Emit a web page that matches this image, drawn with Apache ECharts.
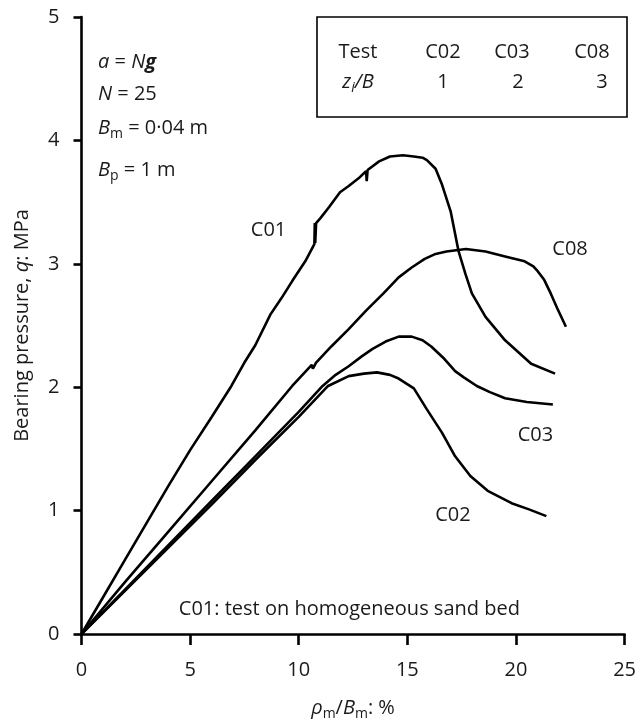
<!DOCTYPE html>
<html><head><meta charset="utf-8">
<script src="https://cdn.jsdelivr.net/npm/echarts@6/dist/echarts.min.js"></script>
<style>html,body{margin:0;padding:0;background:#fff}#c{width:639px;height:726px}</style>
</head><body><div id="c"></div>
<script>
// ---- data ----
const xTicks = [0, 5, 10, 15, 20, 25];
const yTicks = [0, 1, 2, 3, 4, 5];

const c01 = [[0,0],[1,0.3],[2,0.6],[3,0.9],[4,1.2],[5,1.49],[6,1.76],[6.9,2.01],[7.5,2.2],[8.0,2.34],[8.7,2.59],[9.2,2.72],[9.7,2.86],[10.3,3.02],[10.72,3.16],[10.74,3.33],[10.76,3.17],[10.8,3.33],[11.0,3.37],[11.4,3.46],[11.9,3.58],[12.3,3.63],[12.8,3.70],[13.1,3.75],[13.13,3.67],[13.17,3.76],[13.7,3.83],[14.2,3.87],[14.8,3.88],[15.3,3.87],[15.7,3.86],[15.9,3.84],[16.3,3.77],[16.6,3.64],[17.0,3.42],[17.36,3.10],[17.67,2.92],[17.97,2.76],[18.6,2.57],[19.5,2.38],[20.7,2.19],[21.8,2.11]];
const c08 = [[0,0],[2,0.42],[4,0.83],[6,1.24],[8,1.65],[9.7,2.01],[10.6,2.18],[10.65,2.15],[10.8,2.2],[11.5,2.33],[12.3,2.47],[13.1,2.62],[13.9,2.76],[14.6,2.89],[15.2,2.97],[15.8,3.04],[16.3,3.08],[16.8,3.10],[17.7,3.12],[18.6,3.10],[19.5,3.06],[20.4,3.02],[20.8,2.98],[21.0,2.94],[21.3,2.87],[21.6,2.76],[21.9,2.64],[22.3,2.49]];
const c03 = [[0,0],[2,0.36],[4,0.72],[6,1.08],[8,1.44],[10,1.8],[11.1,2.01],[11.7,2.1],[12.3,2.17],[12.9,2.25],[13.4,2.31],[14.0,2.37],[14.6,2.41],[15.2,2.41],[15.7,2.38],[16.1,2.33],[16.7,2.23],[17.2,2.13],[17.6,2.08],[18.2,2.01],[18.8,1.96],[19.5,1.91],[20.5,1.88],[21.7,1.86]];
const c02 = [[0,0],[2,0.35],[4,0.7],[6,1.05],[8,1.41],[10,1.76],[11.35,2.01],[12.3,2.09],[13.0,2.11],[13.6,2.12],[14.2,2.1],[14.6,2.07],[15.3,1.99],[15.9,1.82],[16.6,1.63],[17.2,1.44],[17.9,1.28],[18.7,1.16],[19.8,1.06],[20.6,1.01],[21.4,0.955]];

const curveNames = ['C01', 'C08', 'C03', 'C02'];
const curveLabelX = [8.61, 22.49, 20.9, 17.1];
const curveLabelY = [3.27, 3.12, 1.61, 0.96];

const tableTests = ['C02', 'C03', 'C08'];
const tableZiB = ['1', '2', '3'];

// ---- chart ----
const F = '"Open Sans", "Noto Sans", sans-serif';
const TXT = '#1a1a1a';
const FS = 20;
const rich = {
  n: { fontFamily: F, fontSize: FS, color: TXT, lineHeight: 26 },
  it: { fontFamily: F, fontSize: FS, color: TXT, fontStyle: 'italic', lineHeight: 26 },
  bi: { fontFamily: F, fontSize: FS, color: TXT, fontStyle: 'italic', fontWeight: 'bold', lineHeight: 26 },
  sub: { fontFamily: F, fontSize: 14, color: TXT, lineHeight: 14, verticalAlign: 'bottom' },
  subi: { fontFamily: F, fontSize: 14, color: TXT, lineHeight: 14, verticalAlign: 'bottom', fontStyle: 'italic' }
};

const chart = echarts.init(document.getElementById('c'), null, { renderer: 'canvas' });
const mk = (name, data) => ({
  name, type: 'line', data, showSymbol: false, smooth: false, silent: true,
  lineStyle: { color: '#000', width: 2.6 }, z: 3
});

chart.setOption({
  backgroundColor: '#fff',
  animation: false,
  grid: { left: 81.5, right: 12.3, top: 17, bottom: 86 },
  xAxis: {
    type: 'value', min: xTicks[0], max: xTicks[xTicks.length - 1], interval: xTicks[1] - xTicks[0],
    splitLine: { show: false },
    axisLine: { onZero: false, lineStyle: { color: '#000', width: 2.6 } },
    axisTick: { length: 11, lineStyle: { color: '#000', width: 2.6 } },
    axisLabel: { fontFamily: F, fontSize: FS, color: TXT, margin: 26 },
    name: '{it|ρ}{sub|m}{n|/}{it|B}{sub|m}{n|: %}',
    nameLocation: 'middle', nameGap: 61,
    nameTextStyle: { rich }
  },
  yAxis: {
    type: 'value', min: yTicks[0], max: yTicks[yTicks.length - 1], interval: yTicks[1] - yTicks[0],
    splitLine: { show: false },
    axisLine: { onZero: false, lineStyle: { color: '#000', width: 2.6 } },
    axisTick: { length: 8, lineStyle: { color: '#000', width: 2.6 } },
    axisLabel: { fontFamily: F, fontSize: FS, color: TXT, margin: 22 },
    name: '{n|Bearing pressure, }{it|q}{n|: MPa}',
    nameLocation: 'middle', nameGap: 46, nameRotate: 90,
    nameTextStyle: { rich }
  },
  series: [mk('C01', c01), mk('C08', c08), mk('C03', c03), mk('C02', c02)]
});

const txt = (x, y, text, align) => ({
  type: 'text', x, y, z: 10,
  style: { text, rich, align: align || 'center', textAlign: align || 'center', verticalAlign: 'middle', textVerticalAlign: 'middle', fontFamily: F, fontSize: FS, fill: TXT }
});

const g = [];
// parameter block
g.push(txt(98, 62, '{it|a}{n| = }{it|N}{bi|g}', 'left'));
g.push(txt(98, 94, '{it|N}{n| = 25}', 'left'));
g.push(txt(98, 128, '{it|B}{sub|m}{n| = 0·04 m}', 'left'));
g.push(txt(98, 170, '{it|B}{sub|p}{n| = 1 m}', 'left'));
// table
g.push({ type: 'rect', z: 9, shape: { x: 317, y: 17, width: 310, height: 100 }, style: { fill: '#fff', stroke: '#000', lineWidth: 1.6 } });
g.push(txt(358, 52, '{n|Test}'));
g.push(txt(358, 82, '{it|z}{subi|i}{it|/B}'));
const colX = [443, 512, 592];
const numX = [443, 518, 602];
tableTests.forEach((t, i) => g.push(txt(colX[i], 52, '{n|' + t + '}')));
tableZiB.forEach((t, i) => g.push(txt(numX[i], 82, '{n|' + t + '}')));
// curve labels
curveNames.forEach((nm, i) => {
  const p = chart.convertToPixel({ gridIndex: 0 }, [curveLabelX[i], curveLabelY[i]]);
  g.push(txt(p[0], p[1], '{n|' + nm + '}'));
});
const pn = chart.convertToPixel({ gridIndex: 0 }, [12.33, 0.2]);
g.push(txt(pn[0], pn[1], '{n|C01: test on homogeneous sand bed}'));

chart.setOption({ graphic: g });
</script></body></html>
